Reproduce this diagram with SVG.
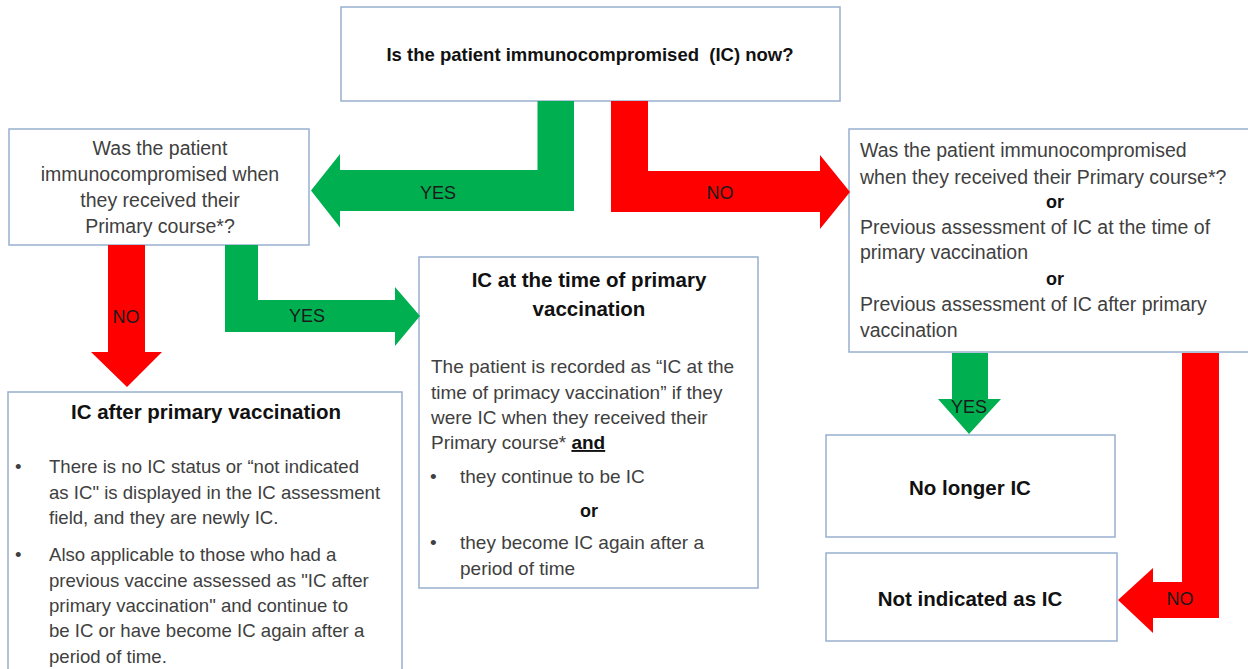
<svg xmlns="http://www.w3.org/2000/svg" width="1248" height="669" viewBox="0 0 1248 669">
<style>
.box{fill:#fff;stroke:#98AFCF;stroke-width:1.5}
.t{font-family:"Liberation Sans",Arial,sans-serif;fill:#404040;font-size:19px}
.b{font-family:"Liberation Sans",Arial,sans-serif;fill:#111;font-weight:bold;font-size:20.5px}
.c{text-anchor:middle}
.lbl{font-family:"Liberation Sans",Arial,sans-serif;fill:#1a1a1a;font-size:18px;text-anchor:middle}
.g{fill:#00B050}
.r{fill:#FF0000}
</style>
<rect width="1248" height="669" fill="#fff"/>

<g id="node-top">
<rect class="box" x="341" y="7" width="499" height="94"/>
<text class="b c" x="590" y="61" style="font-size:18.5px;white-space:pre">Is the patient immunocompromised  (IC) now?</text>
</g>

<g id="node-left-question">
<rect class="box" x="9" y="129" width="300" height="116"/>
<text class="t c" x="160" y="155" style="font-size:19.5px">Was the patient</text>
<text class="t c" x="160" y="181" style="font-size:19.5px">immunocompromised when</text>
<text class="t c" x="160" y="207" style="font-size:19.5px">they received their</text>
<text class="t c" x="160" y="233" style="font-size:19.5px">Primary course*?</text>
</g>

<g id="node-right-question">
<rect class="box" x="849" y="129" width="402" height="223"/>
<text class="t" x="860" y="157" style="font-size:19.5px">Was the patient immunocompromised</text>
<text class="t" x="860" y="184" style="font-size:19.5px">when they received their Primary course*?</text>
<text class="b c" x="1055" y="208" style="font-size:18px">or</text>
<text class="t" x="860" y="234" style="font-size:19.5px">Previous assessment of IC at the time of</text>
<text class="t" x="860" y="259" style="font-size:19.5px">primary vaccination</text>
<text class="b c" x="1055" y="285" style="font-size:18px">or</text>
<text class="t" x="860" y="311" style="font-size:19.5px">Previous assessment of IC after primary</text>
<text class="t" x="860" y="337" style="font-size:19.5px">vaccination</text>
</g>

<g id="node-ic-time-primary">
<rect class="box" x="419" y="257" width="339" height="331"/>
<text class="b c" x="589" y="287">IC at the time of primary</text>
<text class="b c" x="589" y="316">vaccination</text>
<text class="t" x="431" y="373">The patient is recorded as “IC at the</text>
<text class="t" x="431" y="399">time of primacy vaccination” if they</text>
<text class="t" x="431" y="424">were IC when they received their</text>
<text class="t" x="431" y="449">Primary course* <tspan style="font-weight:bold;fill:#111;text-decoration:underline">and</tspan></text>
<text class="t" x="430" y="483">•</text>
<text class="t" x="460" y="483">they continue to be IC</text>
<text class="b c" x="589" y="517" style="font-size:18px">or</text>
<text class="t" x="430" y="549">•</text>
<text class="t" x="460" y="549">they become IC again after a</text>
<text class="t" x="460" y="575">period of time</text>
</g>

<g id="node-ic-after-primary">
<rect class="box" x="8" y="392" width="394" height="290"/>
<text class="b c" x="206" y="419">IC after primary vaccination</text>
<text class="t" x="15" y="473" style="font-size:18.6px">•</text>
<text class="t" x="49" y="473" style="font-size:18.6px">There is no IC status or “not indicated</text>
<text class="t" x="49" y="499" style="font-size:18.6px">as IC" is displayed in the IC assessment</text>
<text class="t" x="49" y="524" style="font-size:18.6px">field, and they are newly IC.</text>
<text class="t" x="15" y="561" style="font-size:18.6px">•</text>
<text class="t" x="49" y="561" style="font-size:18.6px">Also applicable to those who had a</text>
<text class="t" x="49" y="587" style="font-size:18.6px">previous vaccine assessed as "IC after</text>
<text class="t" x="49" y="612" style="font-size:18.6px">primary vaccination" and continue to</text>
<text class="t" x="49" y="637" style="font-size:18.6px">be IC or have become IC again after a</text>
<text class="t" x="49" y="663" style="font-size:18.6px">period of time.</text>
</g>

<g id="node-no-longer-ic">
<rect class="box" x="826" y="435" width="289" height="102"/>
<text class="b c" x="970" y="495">No longer IC</text>
</g>

<g id="node-not-indicated">
<rect class="box" x="826" y="553" width="291" height="88"/>
<text class="b c" x="970" y="606">Not indicated as IC</text>
</g>

<g id="connectors">
<polygon class="g" points="537.5,101 574,101 574,211 340,211 340,227.5 311,190.5 340,154 340,170 537.5,170"/>
<text class="lbl" x="438" y="199">YES</text>
<polygon class="r" points="611,101 648,101 648,171 820,171 820,155 850,192 820,229 820,212 611,212"/>
<text class="lbl" x="720" y="199">NO</text>
<polygon class="r" points="108,245 145,245 145,352 162,352 127,387 91,352 108,352"/>
<text class="lbl" x="126" y="323">NO</text>
<polygon class="g" points="225,245 258,245 258,300 395,300 395,287 420,316 395,346 395,332 225,332"/>
<text class="lbl" x="307" y="322">YES</text>
<polygon class="g" points="952,353 988,353 988,399 1001,399 969,434 938,399 952,399"/>
<text class="lbl" x="969" y="413">YES</text>
<polygon class="r" points="1182,353 1219,353 1219,618 1153,618 1153,633 1118,600 1153,568 1153,582 1182,582"/>
<text class="lbl" x="1180" y="605">NO</text>
</g>
</svg>
